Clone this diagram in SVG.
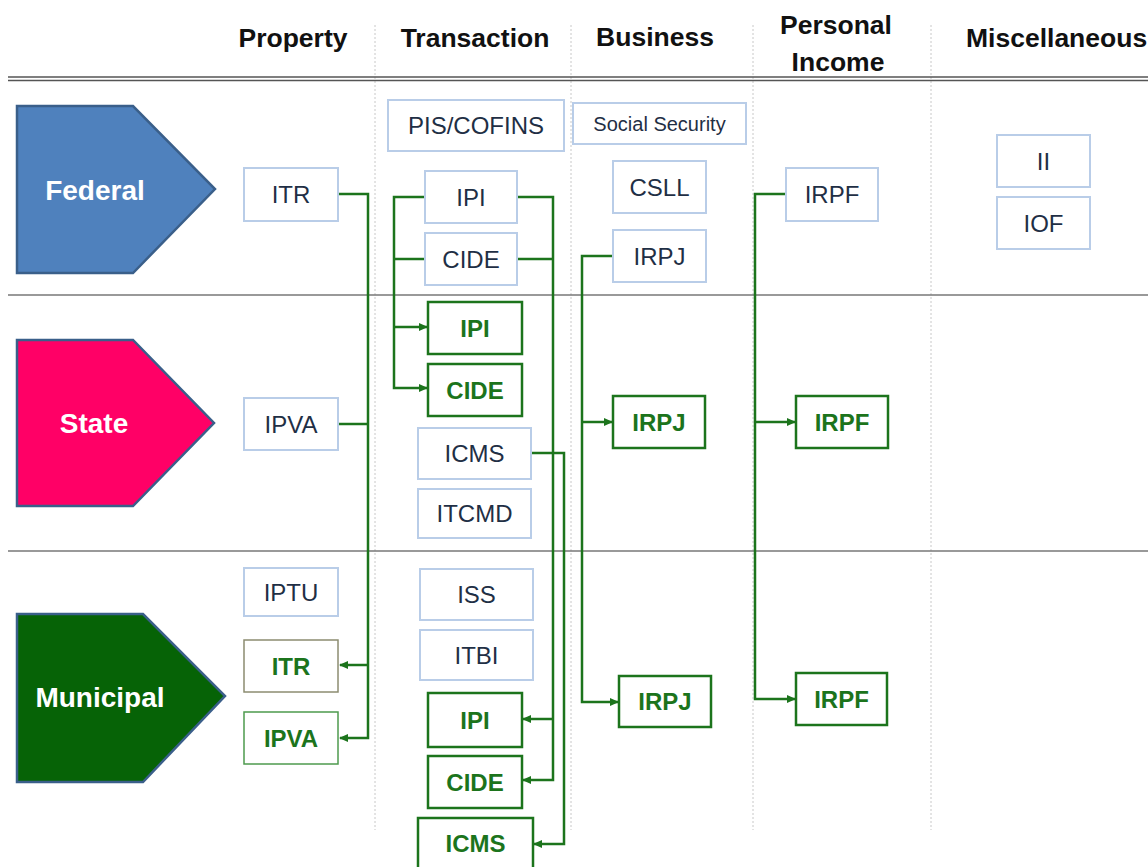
<svg xmlns="http://www.w3.org/2000/svg" width="1148" height="867" viewBox="0 0 1148 867">
<style>
.hdr{font-family:"Liberation Sans",Arial,sans-serif;font-weight:bold;font-size:26.5px;fill:#111;text-anchor:middle}
.lvl{font-family:"Liberation Sans",Arial,sans-serif;font-weight:bold;font-size:28px;fill:#fff;text-anchor:middle}
.b rect{fill:#fff;stroke:#B9CDE8;stroke-width:2}
.b text{font-family:"Liberation Sans",Arial,sans-serif;font-size:24px;fill:#1F2F45;text-anchor:middle}
.g rect{fill:#fff;stroke:#1C741C;stroke-width:2.5}
.g text{font-family:"Liberation Sans",Arial,sans-serif;font-weight:bold;font-size:24px;fill:#1C741C;text-anchor:middle}
.sep{stroke:#C8C8C8;stroke-width:1;stroke-dasharray:2 2}
.row{stroke:#777;stroke-width:1.5}
.pent{stroke:#3A5F8A;stroke-width:2.5}
#connectors path{fill:none;stroke:#1C741C;stroke-width:2.5}
</style>
<defs>
<marker id="ah" markerUnits="userSpaceOnUse" markerWidth="9" markerHeight="8" refX="8" refY="4" orient="auto">
<path d="M0,0 L9,4 L0,8 z" fill="#1C741C"/>
</marker>
</defs>
<rect width="1148" height="867" fill="#fff"/>
<g id="grid">
<line class="sep" x1="375" y1="25" x2="375" y2="830"/>
<line class="sep" x1="571" y1="25" x2="571" y2="830"/>
<line class="sep" x1="753" y1="25" x2="753" y2="830"/>
<line class="sep" x1="931" y1="25" x2="931" y2="830"/>
<line x1="8" y1="77" x2="1148" y2="77" stroke="#555" stroke-width="1.6"/>
<line x1="8" y1="80.5" x2="1148" y2="80.5" stroke="#555" stroke-width="1.6"/>
<line class="row" x1="8" y1="295" x2="1148" y2="295"/>
<line class="row" x1="8" y1="551" x2="1148" y2="551"/>
</g>
<g id="headers">
<text class="hdr" x="293" y="47">Property</text>
<text class="hdr" x="475" y="47">Transaction</text>
<text class="hdr" x="655" y="46">Business</text>
<text class="hdr" x="836" y="34">Personal</text>
<text class="hdr" x="838" y="71">Income</text>
<text class="hdr" x="966" y="47" style="text-anchor:start">Miscellaneous</text>
</g>
<g id="federal">
<polygon class="pent" points="17,106 133,106 215,189 133,273 17,273" fill="#4F81BD"/>
<text class="lvl" x="95" y="200">Federal</text>
</g>
<g id="state">
<polygon class="pent" points="17,340 133,340 214,423 133,506 17,506" fill="#FF0066"/>
<text class="lvl" x="94" y="433">State</text>
</g>
<g id="municipal">
<polygon class="pent" points="17,614 143,614 225,696 143,782 17,782" fill="#066306"/>
<text class="lvl" x="100" y="707">Municipal</text>
</g>
<g id="connectors">
<path d="M338,194 H368 V738 H340" marker-end="url(#ah)"/>
<path d="M368,665 H340" marker-end="url(#ah)"/>
<path d="M338,424 H368"/>
<path d="M425,197 H394 V388 H427" marker-end="url(#ah)"/>
<path d="M394,327 H427" marker-end="url(#ah)"/>
<path d="M425,259 H394"/>
<path d="M517,197 H553 V780 H523" marker-end="url(#ah)"/>
<path d="M553,719 H523" marker-end="url(#ah)"/>
<path d="M517,259 H553"/>
<path d="M531,453 H564 V844 H534" marker-end="url(#ah)"/>
<path d="M613,256 H582 V702 H618" marker-end="url(#ah)"/>
<path d="M582,422 H612" marker-end="url(#ah)"/>
<path d="M786,194 H755 V699 H795" marker-end="url(#ah)"/>
<path d="M755,422 H795" marker-end="url(#ah)"/>
</g>
<g id="fed-itr" class="b"><rect x="244" y="168" width="94" height="53"/><text x="291" y="203">ITR</text></g>
<g id="fed-pis" class="b"><rect x="388" y="100" width="176" height="51"/><text x="476" y="134">PIS/COFINS</text></g>
<g id="fed-ipi" class="b"><rect x="425" y="171" width="92" height="52"/><text x="471" y="206">IPI</text></g>
<g id="fed-cide" class="b"><rect x="425" y="233" width="92" height="52"/><text x="471" y="268">CIDE</text></g>
<g id="fed-socsec" class="b"><rect x="573" y="103" width="173" height="41"/><text x="659.5" y="131" style="font-size:20px">Social Security</text></g>
<g id="fed-csll" class="b"><rect x="613" y="161" width="93" height="52"/><text x="659.5" y="196">CSLL</text></g>
<g id="fed-irpj" class="b"><rect x="613" y="230" width="93" height="52"/><text x="659.5" y="265">IRPJ</text></g>
<g id="fed-irpf" class="b"><rect x="786" y="168" width="92" height="53"/><text x="832" y="203">IRPF</text></g>
<g id="fed-ii" class="b"><rect x="997" y="135" width="93" height="52"/><text x="1043.5" y="170">II</text></g>
<g id="fed-iof" class="b"><rect x="997" y="197" width="93" height="52"/><text x="1043.5" y="232">IOF</text></g>
<g id="st-ipva" class="b"><rect x="244" y="398" width="94" height="52"/><text x="291" y="433">IPVA</text></g>
<g id="st-icms" class="b"><rect x="418" y="428" width="113" height="51"/><text x="474.5" y="462">ICMS</text></g>
<g id="st-itcmd" class="b"><rect x="418" y="489" width="113" height="49"/><text x="474.5" y="522">ITCMD</text></g>
<g id="st-ipi" class="g"><rect x="428" y="302" width="94" height="52"/><text x="475" y="337">IPI</text></g>
<g id="st-cide" class="g"><rect x="428" y="364" width="94" height="52"/><text x="475" y="399">CIDE</text></g>
<g id="st-irpj" class="g"><rect x="613" y="396" width="92" height="52"/><text x="659" y="431">IRPJ</text></g>
<g id="st-irpf" class="g"><rect x="796" y="396" width="92" height="52"/><text x="842" y="431">IRPF</text></g>
<g id="mu-iptu" class="b"><rect x="244" y="568" width="94" height="48"/><text x="291" y="601">IPTU</text></g>
<g id="mu-iss" class="b"><rect x="420" y="569" width="113" height="51"/><text x="476.5" y="603">ISS</text></g>
<g id="mu-itbi" class="b"><rect x="420" y="630" width="113" height="50"/><text x="476.5" y="664">ITBI</text></g>
<g id="mu-itr" class="g"><rect x="244" y="640" width="94" height="52" style="stroke:#8C8C70;stroke-width:1.5"/><text x="291" y="675">ITR</text></g>
<g id="mu-ipva" class="g"><rect x="244" y="712" width="94" height="52" style="stroke:#4E9A4E;stroke-width:1.5"/><text x="291" y="747">IPVA</text></g>
<g id="mu-ipi" class="g"><rect x="428" y="693" width="94" height="54"/><text x="475" y="729">IPI</text></g>
<g id="mu-cide" class="g"><rect x="428" y="756" width="94" height="52"/><text x="475" y="791">CIDE</text></g>
<g id="mu-icms" class="g"><rect x="418" y="818" width="115" height="56"/><text x="475.5" y="852">ICMS</text></g>
<g id="mu-irpj" class="g"><rect x="619" y="676" width="92" height="51"/><text x="665" y="710">IRPJ</text></g>
<g id="mu-irpf" class="g"><rect x="796" y="673" width="91" height="52"/><text x="841.5" y="708">IRPF</text></g>
</svg>
